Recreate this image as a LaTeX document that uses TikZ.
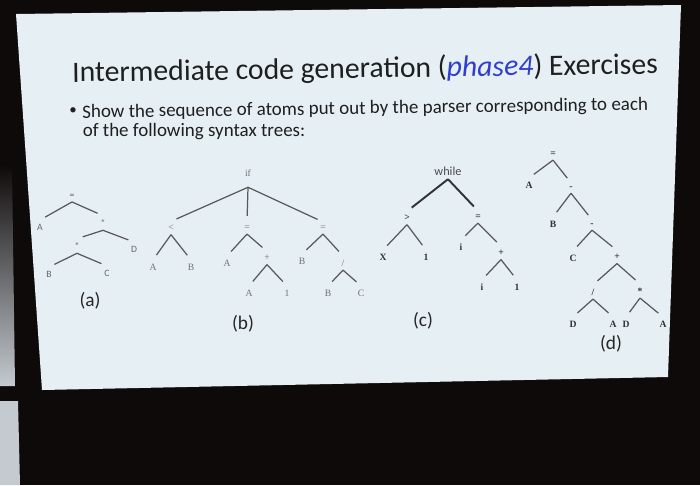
\documentclass[tikz,border=0pt]{standalone}
\usepackage{fontspec}
\setmainfont{Carlito}
\newfontfamily\treefont{Liberation Serif}
\usepackage{tikz}
\usetikzlibrary{positioning}

\definecolor{roomDark}{RGB}{14,10,10}
\definecolor{slideBg}{RGB}{229,239,244}
\definecolor{wallGray}{RGB}{196,202,208}
\definecolor{phaseBlue}{RGB}{48,62,205}

\begin{document}
\begin{tikzpicture}[
        x=0.02cm, y=-0.02cm,
        % text styles
        titleText/.style={anchor=base west, rotate=0.8, inner sep=0pt, font=\fontsize{16.9}{17}\selectfont, text=black!88},
        bodyText/.style={anchor=base west, rotate=0.8, inner sep=0pt, font=\fontsize{10.8}{11}\selectfont, text=black!88},
        capLabel/.style={inner sep=0pt, font=\fontsize{11}{11}\selectfont, text=black!85},
        % tree label styles
        opSans/.style={inner xsep=0.5pt, inner ysep=2pt, text=black!60, font=\fontsize{5.5}{6}\selectfont},
        opSerif/.style={inner xsep=0.5pt, inner ysep=2pt, text=black!55, font={\treefont\fontsize{5.5}{6}\selectfont}},
        opBold/.style={inner xsep=0.5pt, inner ysep=2pt, text=black!80, font={\treefont\bfseries\fontsize{5.5}{6}\selectfont}},
        % branch styles
        branch/.style={draw=black!65, line width=0.7pt, shorten >=0.12cm},
        branchBold/.style={draw=black!80, line width=1.1pt, shorten >=0.12cm}
    ]

    % room and slide
    \fill [roomDark] (0,0) rectangle (700,485);
    \useasboundingbox (0,0) rectangle (700,485);
    \shade [top color=roomDark, bottom color=wallGray] (0,165) -- (12,165) -- (15,386) -- (0,386) -- cycle;
    \fill [wallGray] (0,401) -- (18,401) -- (20,485) -- (0,485) -- cycle;
    \fill [slideBg] (16,14) -- (681,5) -- (668,377) -- (42,390) -- cycle;

    % heading and bullet
    \node [titleText] (title) at (72,82) {Intermediate code generation (\textcolor{phaseBlue}{\textit{phase4}}) Exercises};
    \node [inner sep=0pt, font=\fontsize{8.5}{9}\selectfont, text=black!88] (dot) at (73,111.5) {\textbullet};
    \node [bodyText] (line1) at (82,118) {Show the sequence of atoms put out by the parser corresponding to each};
    \node [bodyText, rotate=-0.8] (line2) at (82.5,136.5) {of the following syntax trees:};

    % tree (a)
    \node [opSans] (aEq) at (72,196) {=};
    \node [opSans] (aA) at (40,227) {A};
    \node [opSans] (aMul) at (103,223) {*};
    \node [opSans] (aD) at (134,249) {D};
    \node [opSans] (aAdd) at (77,246) {*};
    \node [opSans] (aB) at (49,274) {B};
    \node [opSans] (aC) at (107,273) {C};
    \draw [branch] (aEq.south) -- (aA.north);
    \draw [branch] (aEq.south) -- (aMul.north);
    \draw [branch] (aMul.south) -- (aAdd.north);
    \draw [branch] (aMul.south) -- (aD.north);
    \draw [branch] (aAdd.south) -- (aB.north);
    \draw [branch] (aAdd.south) -- (aC.north);
    \node [capLabel] (capA) at (90,301) {(a)};

    % tree (b)
    \node [opSerif] (ifOp) at (248,173) {if};
    \coordinate (ifJoin) at ([yshift=-0.14cm]ifOp.south);
    \node [opSerif] (bLt) at (171,228) {<};
    \node [opSerif] (bA1) at (153,267) {A};
    \node [opSerif] (bB1) at (191,267) {B};
    \node [opSerif] (bEq1) at (247,228) {=};
    \node [opSerif] (bA2) at (227,263) {A};
    \node [opSerif] (bAdd) at (267,258) {+};
    \node [opSerif] (bA3) at (249,293) {A};
    \node [opSerif] (bOne) at (287,293) {1};
    \node [opSerif] (bEq2) at (323,228) {=};
    \node [opSerif] (bB2) at (302,261) {B};
    \node [opSerif] (bDiv) at (343,263) {/};
    \node [opSerif] (bB3) at (328,293) {B};
    \node [opSerif] (bC) at (361,293) {C};
    \draw [branch] (ifJoin) -- (bLt.north);
    \draw [branch] (ifJoin) -- (bEq1.north);
    \draw [branch] (ifJoin) -- (bEq2.north);
    \draw [branch] (bLt.south) -- (bA1.north);
    \draw [branch] (bLt.south) -- (bB1.north);
    \draw [branch] (bEq1.south) -- (bA2.north);
    \draw [branch] (bEq1.south) -- (bAdd.north);
    \draw [branch] (bAdd.south) -- (bA3.north);
    \draw [branch] (bAdd.south) -- (bOne.north);
    \draw [branch] (bEq2.south) -- (bB2.north);
    \draw [branch] (bEq2.south) -- (bDiv.north);
    \draw [branch] (bDiv.south) -- (bB3.north);
    \draw [branch] (bDiv.south) -- (bC.north);
    \node [capLabel] (capB) at (243,324) {(b)};

    % tree (c)
    \node [opSans, text=black!70, font=\fontsize{7}{7}\selectfont] (whileOp) at (448,171) {while};
    \node [opBold] (cGt) at (407,218) {>};
    \node [opBold] (cX) at (383,257) {X};
    \node [opBold] (cOne) at (426,257) {1};
    \node [opBold] (cEq) at (478,217) {=};
    \node [opBold] (cI) at (461,247) {i};
    \node [opBold] (cAdd) at (501,253) {+};
    \node [opBold] (cI2) at (482,287) {i};
    \node [opBold] (cOne2) at (517,287) {1};
    \draw [branchBold] (whileOp.south) -- (cGt.north);
    \draw [branchBold] (whileOp.south) -- (cEq.north);
    \draw [branch] (cGt.south) -- (cX.north);
    \draw [branch] (cGt.south) -- (cOne.north);
    \draw [branch] (cEq.south) -- (cI.north);
    \draw [branch] (cEq.south) -- (cAdd.north);
    \draw [branch] (cAdd.south) -- (cI2.north);
    \draw [branch] (cAdd.south) -- (cOne2.north);
    \node [capLabel] (capC) at (423,321) {(c)};

    % tree (d)
    \node [opBold] (dEq) at (553,154) {=};
    \node [opBold] (dA) at (529,185) {A};
    \node [opBold] (dSub1) at (571,188) {-};
    \node [opBold] (dB) at (553,224) {B};
    \node [opBold] (dSub2) at (592,225) {-};
    \node [opBold] (dC) at (573,258) {C};
    \node [opBold] (dAdd) at (617,257) {+};
    \node [opBold] (dDiv) at (593,292) {/};
    \node [opBold] (dD1) at (573,324) {D};
    \node [opBold] (dA1) at (613,324) {A};
    \node [opBold] (dMul) at (640,291) {*};
    \node [opBold] (dD2) at (626,324) {D};
    \node [opBold] (dA2) at (663,324) {A};
    \draw [branch] (dEq.south) -- (dA.north);
    \draw [branch] (dEq.south) -- (dSub1.north);
    \draw [branch] (dSub1.south) -- (dB.north);
    \draw [branch] (dSub1.south) -- (dSub2.north);
    \draw [branch] (dSub2.south) -- (dC.north);
    \draw [branch] (dSub2.south) -- (dAdd.north);
    \draw [branch] (dAdd.south) -- (dDiv.north);
    \draw [branch] (dAdd.south) -- (dMul.north);
    \draw [branch] (dDiv.south) -- (dD1.north);
    \draw [branch] (dDiv.south) -- (dA1.north);
    \draw [branch] (dMul.south) -- (dD2.north);
    \draw [branch] (dMul.south) -- (dA2.north);
    \node [capLabel] (capD) at (611,344) {(d)};

\end{tikzpicture}
\end{document}
